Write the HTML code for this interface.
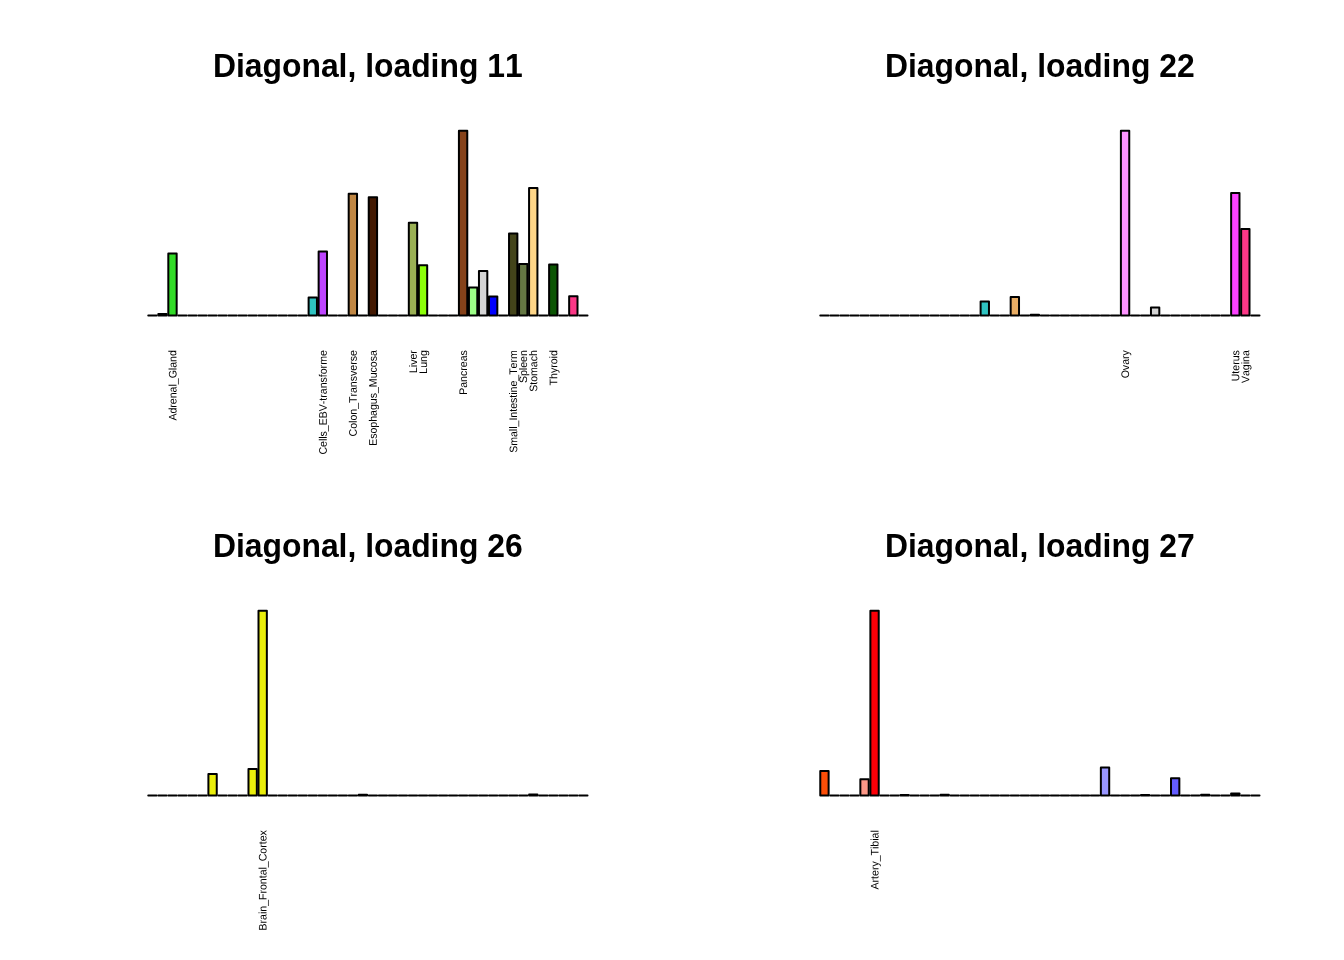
<!DOCTYPE html>
<html><head><meta charset="utf-8"><title>Diagonal loadings</title>
<style>
html,body{margin:0;padding:0;background:#fff}
body{width:1344px;height:960px;overflow:hidden}
svg{display:block}
.t{font-family:"Liberation Sans",Arial,Helvetica,sans-serif;font-weight:bold;font-size:31.87px;text-anchor:middle;fill:#000;font-kerning:none}
.l{font-family:"Liberation Sans",Arial,Helvetica,sans-serif;font-size:10.56px;text-anchor:end;fill:#000;font-kerning:none}
.b rect,.b path{stroke:#000;stroke-width:2;stroke-linejoin:round;stroke-linecap:round}
.b path{fill:none}
</style></head><body>
<svg width="1344" height="960" viewBox="0 0 1344 960">
<rect x="0" y="0" width="1344" height="960" fill="#fff"/>

<g transform="translate(0,0)">
<text class="t" transform="translate(367.8,77.0) scale(1,1.026)">Diagonal, loading 11</text>
<g class="b">
<path d="M148.27 315.50h8.351"/>
<rect x="158.29" y="314.10" width="8.351" height="1.40" fill="#FD9A09"/>
<rect x="168.31" y="253.60" width="8.351" height="61.90" fill="#32DB27"/>
<path d="M178.33 315.50h8.351"/>
<path d="M188.35 315.50h8.351"/>
<path d="M198.38 315.50h8.351"/>
<path d="M208.40 315.50h8.351"/>
<path d="M218.42 315.50h8.351"/>
<path d="M228.44 315.50h8.351"/>
<path d="M238.46 315.50h8.351"/>
<path d="M248.48 315.50h8.351"/>
<path d="M258.50 315.50h8.351"/>
<path d="M268.52 315.50h8.351"/>
<path d="M278.54 315.50h8.351"/>
<path d="M288.56 315.50h8.351"/>
<path d="M298.59 315.50h8.351"/>
<rect x="308.61" y="297.40" width="8.351" height="18.10" fill="#2FC3C1"/>
<rect x="318.63" y="251.60" width="8.351" height="63.90" fill="#BE45FF"/>
<path d="M328.65 315.50h8.351"/>
<path d="M338.67 315.50h8.351"/>
<rect x="348.69" y="193.80" width="8.351" height="121.70" fill="#C08744"/>
<path d="M358.71 315.50h8.351"/>
<rect x="368.73" y="197.30" width="8.351" height="118.20" fill="#431902"/>
<path d="M378.75 315.50h8.351"/>
<path d="M388.77 315.50h8.351"/>
<path d="M398.80 315.50h8.351"/>
<rect x="408.82" y="222.70" width="8.351" height="92.80" fill="#9AB054"/>
<rect x="418.84" y="265.30" width="8.351" height="50.20" fill="#8CFF09"/>
<path d="M428.86 315.50h8.351"/>
<path d="M438.88 315.50h8.351"/>
<path d="M448.90 315.50h8.351"/>
<rect x="458.92" y="130.80" width="8.351" height="184.70" fill="#86421A"/>
<rect x="468.94" y="287.50" width="8.351" height="28.00" fill="#9DFF87"/>
<rect x="478.96" y="271.10" width="8.351" height="44.40" fill="#D5D5D5"/>
<rect x="488.98" y="296.60" width="8.351" height="18.90" fill="#0000FE"/>
<path d="M499.00 315.50h8.351"/>
<rect x="509.03" y="233.50" width="8.351" height="82.00" fill="#43441A"/>
<rect x="519.05" y="264.10" width="8.351" height="51.40" fill="#647743"/>
<rect x="529.07" y="188.00" width="8.351" height="127.50" fill="#FED688"/>
<path d="M539.09 315.50h8.351"/>
<rect x="549.11" y="264.40" width="8.351" height="51.10" fill="#0B5503"/>
<path d="M559.13 315.50h8.351"/>
<rect x="569.15" y="296.20" width="8.351" height="19.30" fill="#FC3887"/>
<path d="M579.17 315.50h8.351"/>
</g>
<text class="l" transform="translate(176.37,350.2) rotate(-90.03) scale(1,1.04)">Adrenal_Gland</text>
<text class="l" transform="translate(326.68,350.2) rotate(-90.03) scale(1,1.04)">Cells_EBV-transforme</text>
<text class="l" transform="translate(356.75,350.2) rotate(-90.03) scale(1,1.04)">Colon_Transverse</text>
<text class="l" transform="translate(376.79,350.2) rotate(-90.03) scale(1,1.04)">Esophagus_Mucosa</text>
<text class="l" transform="translate(416.87,350.2) rotate(-90.03) scale(1,1.04)">Liver</text>
<text class="l" transform="translate(426.89,350.2) rotate(-90.03) scale(1,1.04)">Lung</text>
<text class="l" transform="translate(466.98,350.2) rotate(-90.03) scale(1,1.04)">Pancreas</text>
<text class="l" transform="translate(517.08,350.2) rotate(-90.03) scale(1,1.04)">Small_Intestine_Term</text>
<text class="l" transform="translate(527.10,350.2) rotate(-90.03) scale(1,1.04)">Spleen</text>
<text class="l" transform="translate(537.12,350.2) rotate(-90.03) scale(1,1.04)">Stomach</text>
<text class="l" transform="translate(557.17,350.2) rotate(-90.03) scale(1,1.04)">Thyroid</text>
</g>
<g transform="translate(672,0)">
<text class="t" transform="translate(367.8,77.0) scale(1,1.026)">Diagonal, loading 22</text>
<g class="b">
<path d="M148.27 315.50h8.351"/>
<path d="M158.29 315.50h8.351"/>
<path d="M168.31 315.50h8.351"/>
<path d="M178.33 315.50h8.351"/>
<path d="M188.35 315.50h8.351"/>
<path d="M198.38 315.50h8.351"/>
<path d="M208.40 315.50h8.351"/>
<path d="M218.42 315.50h8.351"/>
<path d="M228.44 315.50h8.351"/>
<path d="M238.46 315.50h8.351"/>
<path d="M248.48 315.50h8.351"/>
<path d="M258.50 315.50h8.351"/>
<path d="M268.52 315.50h8.351"/>
<path d="M278.54 315.50h8.351"/>
<path d="M288.56 315.50h8.351"/>
<path d="M298.59 315.50h8.351"/>
<rect x="308.61" y="301.50" width="8.351" height="14.00" fill="#2FC3C1"/>
<path d="M318.63 315.50h8.351"/>
<path d="M328.65 315.50h8.351"/>
<rect x="338.67" y="296.90" width="8.351" height="18.60" fill="#E9AD64"/>
<path d="M348.69 315.50h8.351"/>
<rect x="358.71" y="314.80" width="8.351" height="0.70" fill="#786043"/>
<path d="M368.73 315.50h8.351"/>
<path d="M378.75 315.50h8.351"/>
<path d="M388.77 315.50h8.351"/>
<path d="M398.80 315.50h8.351"/>
<path d="M408.82 315.50h8.351"/>
<path d="M418.84 315.50h8.351"/>
<path d="M428.86 315.50h8.351"/>
<path d="M438.88 315.50h8.351"/>
<rect x="448.90" y="130.80" width="8.351" height="184.70" fill="#FD93FF"/>
<path d="M458.92 315.50h8.351"/>
<path d="M468.94 315.50h8.351"/>
<rect x="478.96" y="307.60" width="8.351" height="7.90" fill="#D5D5D5"/>
<path d="M488.98 315.50h8.351"/>
<path d="M499.00 315.50h8.351"/>
<path d="M509.03 315.50h8.351"/>
<path d="M519.05 315.50h8.351"/>
<path d="M529.07 315.50h8.351"/>
<path d="M539.09 315.50h8.351"/>
<path d="M549.11 315.50h8.351"/>
<rect x="559.13" y="192.90" width="8.351" height="122.60" fill="#FC42FF"/>
<rect x="569.15" y="229.10" width="8.351" height="86.40" fill="#FC3887"/>
<path d="M579.17 315.50h8.351"/>
</g>
<text class="l" transform="translate(456.96,350.2) rotate(-90.03) scale(1,1.04)">Ovary</text>
<text class="l" transform="translate(567.19,350.2) rotate(-90.03) scale(1,1.04)">Uterus</text>
<text class="l" transform="translate(577.21,350.2) rotate(-90.03) scale(1,1.04)">Vagina</text>
</g>
<g transform="translate(0,480)">
<text class="t" transform="translate(367.8,77.0) scale(1,1.026)">Diagonal, loading 26</text>
<g class="b">
<path d="M148.27 315.50h8.351"/>
<path d="M158.29 315.50h8.351"/>
<path d="M168.31 315.50h8.351"/>
<path d="M178.33 315.50h8.351"/>
<path d="M188.35 315.50h8.351"/>
<path d="M198.38 315.50h8.351"/>
<rect x="208.40" y="294.00" width="8.351" height="21.50" fill="#EAEE0B"/>
<path d="M218.42 315.50h8.351"/>
<path d="M228.44 315.50h8.351"/>
<path d="M238.46 315.50h8.351"/>
<rect x="248.48" y="289.10" width="8.351" height="26.40" fill="#EAEE0B"/>
<rect x="258.50" y="130.80" width="8.351" height="184.70" fill="#EAEE0B"/>
<path d="M268.52 315.50h8.351"/>
<path d="M278.54 315.50h8.351"/>
<path d="M288.56 315.50h8.351"/>
<path d="M298.59 315.50h8.351"/>
<path d="M308.61 315.50h8.351"/>
<path d="M318.63 315.50h8.351"/>
<path d="M328.65 315.50h8.351"/>
<path d="M338.67 315.50h8.351"/>
<path d="M348.69 315.50h8.351"/>
<rect x="358.71" y="314.80" width="8.351" height="0.70" fill="#786043"/>
<path d="M368.73 315.50h8.351"/>
<path d="M378.75 315.50h8.351"/>
<path d="M388.77 315.50h8.351"/>
<path d="M398.80 315.50h8.351"/>
<path d="M408.82 315.50h8.351"/>
<path d="M418.84 315.50h8.351"/>
<path d="M428.86 315.50h8.351"/>
<path d="M438.88 315.50h8.351"/>
<path d="M448.90 315.50h8.351"/>
<path d="M458.92 315.50h8.351"/>
<path d="M468.94 315.50h8.351"/>
<path d="M478.96 315.50h8.351"/>
<path d="M488.98 315.50h8.351"/>
<path d="M499.00 315.50h8.351"/>
<path d="M509.03 315.50h8.351"/>
<path d="M519.05 315.50h8.351"/>
<rect x="529.07" y="314.50" width="8.351" height="1.00" fill="#FED688"/>
<path d="M539.09 315.50h8.351"/>
<path d="M549.11 315.50h8.351"/>
<path d="M559.13 315.50h8.351"/>
<path d="M569.15 315.50h8.351"/>
<path d="M579.17 315.50h8.351"/>
</g>
<text class="l" transform="translate(266.56,350.2) rotate(-90.03) scale(1,1.04)">Brain_Frontal_Cortex</text>
</g>
<g transform="translate(672,480)">
<text class="t" transform="translate(367.8,77.0) scale(1,1.026)">Diagonal, loading 27</text>
<g class="b">
<rect x="148.27" y="291.00" width="8.351" height="24.50" fill="#FC4E08"/>
<path d="M158.29 315.50h8.351"/>
<path d="M168.31 315.50h8.351"/>
<path d="M178.33 315.50h8.351"/>
<rect x="188.35" y="299.30" width="8.351" height="16.20" fill="#FD9887"/>
<rect x="198.38" y="130.80" width="8.351" height="184.70" fill="#FB0007"/>
<path d="M208.40 315.50h8.351"/>
<path d="M218.42 315.50h8.351"/>
<rect x="228.44" y="315.00" width="8.351" height="0.50" fill="#EAEE0B"/>
<path d="M238.46 315.50h8.351"/>
<path d="M248.48 315.50h8.351"/>
<path d="M258.50 315.50h8.351"/>
<rect x="268.52" y="314.70" width="8.351" height="0.80" fill="#EAEE0B"/>
<path d="M278.54 315.50h8.351"/>
<path d="M288.56 315.50h8.351"/>
<path d="M298.59 315.50h8.351"/>
<path d="M308.61 315.50h8.351"/>
<path d="M318.63 315.50h8.351"/>
<path d="M328.65 315.50h8.351"/>
<path d="M338.67 315.50h8.351"/>
<path d="M348.69 315.50h8.351"/>
<path d="M358.71 315.50h8.351"/>
<path d="M368.73 315.50h8.351"/>
<path d="M378.75 315.50h8.351"/>
<path d="M388.77 315.50h8.351"/>
<path d="M398.80 315.50h8.351"/>
<path d="M408.82 315.50h8.351"/>
<path d="M418.84 315.50h8.351"/>
<rect x="428.86" y="287.40" width="8.351" height="28.10" fill="#9996FF"/>
<path d="M438.88 315.50h8.351"/>
<path d="M448.90 315.50h8.351"/>
<path d="M458.92 315.50h8.351"/>
<rect x="468.94" y="315.00" width="8.351" height="0.50" fill="#9DFF87"/>
<path d="M478.96 315.50h8.351"/>
<path d="M488.98 315.50h8.351"/>
<rect x="499.00" y="298.20" width="8.351" height="17.30" fill="#635CFF"/>
<path d="M509.03 315.50h8.351"/>
<path d="M519.05 315.50h8.351"/>
<rect x="529.07" y="314.80" width="8.351" height="0.70" fill="#FED688"/>
<path d="M539.09 315.50h8.351"/>
<path d="M549.11 315.50h8.351"/>
<rect x="559.13" y="313.60" width="8.351" height="1.90" fill="#FC42FF"/>
<path d="M569.15 315.50h8.351"/>
<path d="M579.17 315.50h8.351"/>
</g>
<text class="l" transform="translate(206.43,350.2) rotate(-90.03) scale(1,1.04)">Artery_Tibial</text>
</g>
</svg></body></html>
